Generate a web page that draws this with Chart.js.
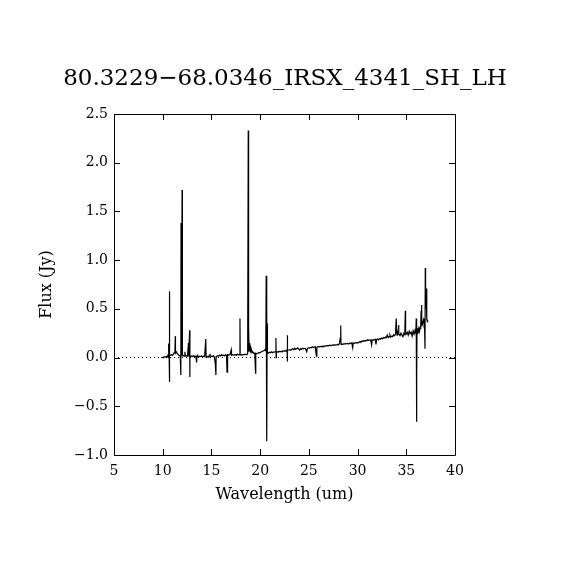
<!DOCTYPE html>
<html>
<head>
<meta charset="utf-8">
<script src="https://cdn.jsdelivr.net/npm/chart.js@4/dist/chart.umd.min.js"></script>
<style>
html,body{margin:0;padding:0;background:#fff;}
#wrap{width:570px;height:570px;}
</style>
</head>
<body>
<div id="wrap"><canvas id="c" width="570" height="570"></canvas></div>
<script>
const chartTitle = "80.3229\u221268.0346_IRSX_4341_SH_LH";
const xAxisTitle = "Wavelength (um)";
const yAxisTitle = "Flux (Jy)";
const xTickValues = [5, 10, 15, 20, 25, 30, 35, 40];
const yTickValues = [-1.0, -0.5, 0.0, 0.5, 1.0, 1.5, 2.0, 2.5];
const yTickLabels = ["\u22121.0", "\u22120.5", "0.0", "0.5", "1.0", "1.5", "2.0", "2.5"];

const wavelengthUm = [
 9.85, 9.95,10.05,10.15,10.25,10.35,10.45,10.52,10.58,10.60,10.62,10.66,10.68,10.70,10.72,10.80,10.90,11.00,11.10,11.18,
11.25,11.29,11.31,11.40,11.50,11.60,11.70,11.80,11.86,11.88,11.90,11.95,11.99,12.02,12.10,12.20,12.28,12.32,12.45,12.55,
12.64,12.67,12.76,12.78,12.80,12.90,13.00,13.10,13.20,13.30,13.40,13.48,13.52,13.60,13.70,13.80,13.90,14.00,14.10,14.20,
14.30,14.42,14.45,14.55,14.65,14.75,14.85,14.90,15.00,15.10,15.20,15.30,15.40,15.46,15.48,15.55,15.65,15.75,15.85,15.95,
16.05,16.15,16.25,16.35,16.45,16.55,16.60,16.62,16.70,16.80,16.90,17.03,17.06,17.15,17.25,17.35,17.45,17.55,17.65,17.75,
17.85,17.93,17.95,18.05,18.15,18.25,18.35,18.45,18.55,18.65,18.72,18.78,18.80,18.83,18.86,18.90,18.95,19.00,19.05,19.10,
19.15,19.20,19.28,19.35,19.45,19.53,19.55,19.65,19.75,19.85,19.95,20.05,20.15,20.25,20.35,20.45,20.52,20.58,20.62,20.66,
20.69,20.72,20.75,20.85,20.95,21.05,21.15,21.25,21.35,21.45,21.55,21.62,21.64,21.67,21.75,21.85,21.95,22.05,22.15,22.25,
22.35,22.45,22.55,22.65,22.76,22.78,22.80,22.83,22.95,23.05,23.15,23.25,23.35,23.45,23.55,23.65,23.75,23.85,23.95,24.05,
24.15,24.25,24.35,24.45,24.55,24.65,24.78,24.85,24.95,25.05,25.15,25.25,25.35,25.45,25.55,25.65,25.78,25.82,25.92,26.05,
26.15,26.25,26.35,26.45,26.55,26.65,26.75,26.85,26.95,27.05,27.15,27.25,27.35,27.45,27.55,27.65,27.75,27.85,27.95,28.05,
28.15,28.22,28.27,28.30,28.40,28.50,28.60,28.70,28.80,28.90,29.00,29.10,29.20,29.30,29.40,29.50,29.55,29.65,29.75,29.85,
29.95,30.05,30.15,30.25,30.35,30.45,30.55,30.65,30.75,30.85,30.95,31.05,31.15,31.25,31.35,31.44,31.50,31.60,31.70,31.80,
31.89,31.95,32.05,32.15,32.25,32.35,32.45,32.55,32.65,32.75,32.85,32.95,33.05,33.15,33.25,33.32,33.40,33.50,33.60,33.70,
33.80,33.90,33.96,34.02,34.05,34.10,34.15,34.20,34.25,34.35,34.45,34.55,34.65,34.75,34.85,34.90,34.93,35.00,35.10,35.20,
35.30,35.40,35.50,35.60,35.70,35.80,35.90,35.98,36.02,36.05,36.08,36.10,36.15,36.20,36.25,36.30,36.35,36.42,36.48,36.52,
36.56,36.60,36.65,36.70,36.75,36.80,36.86,36.92,36.95,36.98,37.05,37.08,37.12,37.18,37.25
];
const fluxJy = [
0.000,0.003,-0.002,0.008,0.004,0.012,0.008,0.018,0.010,0.145,0.012,0.020,0.680,-0.250,0.015,0.025,0.030,0.022,0.035,0.050,
0.062,0.220,0.045,0.058,0.040,0.028,0.020,0.018,-0.180,1.380,0.025,0.020,1.720,0.018,0.022,0.015,0.060,0.020,0.018,0.015,
0.150,0.010,0.280,-0.200,0.015,0.012,0.018,0.010,0.020,0.008,0.015,-0.050,0.012,0.020,0.005,0.015,0.010,0.018,0.005,0.015,
0.010,0.190,0.008,0.012,0.005,0.018,0.030,0.008,0.015,0.010,0.020,0.005,-0.060,-0.180,0.010,0.012,0.020,0.015,0.025,0.015,
0.030,0.020,0.025,0.018,0.030,0.020,-0.150,0.022,0.030,0.025,0.030,0.080,0.025,0.030,0.025,0.028,0.030,0.022,0.035,0.028,
0.030,0.400,0.028,0.030,0.025,0.032,0.028,0.035,0.030,0.032,0.040,2.330,0.060,0.300,0.120,0.150,0.090,0.110,0.070,0.080,
0.055,0.060,0.045,0.050,0.040,-0.160,0.045,0.040,0.045,0.050,0.048,0.055,0.060,0.065,0.070,0.075,0.085,0.070,0.840,0.000,
-0.860,0.350,0.050,0.045,0.055,0.050,0.060,0.050,0.058,0.055,0.060,0.200,0.000,0.055,0.060,0.055,0.065,0.060,0.065,0.058,
0.070,0.065,0.072,0.068,0.080,0.230,-0.040,0.075,0.078,0.082,0.075,0.085,0.090,0.080,0.095,0.085,0.090,0.100,0.088,0.075,
0.092,0.085,0.095,0.090,0.095,0.090,0.060,0.095,0.100,0.098,0.105,0.100,0.110,0.102,0.108,0.112,0.015,0.105,0.112,0.108,
0.115,0.110,0.118,0.112,0.120,0.115,0.122,0.118,0.125,0.120,0.128,0.122,0.125,0.130,0.125,0.132,0.128,0.130,0.135,0.130,
0.150,0.200,0.330,0.135,0.140,0.135,0.142,0.138,0.145,0.140,0.145,0.140,0.150,0.145,0.150,0.100,0.148,0.145,0.152,0.148,
0.155,0.150,0.158,0.165,0.160,0.170,0.165,0.175,0.168,0.178,0.172,0.185,0.175,0.182,0.180,0.130,0.182,0.178,0.185,0.188,
0.135,0.185,0.190,0.182,0.195,0.188,0.200,0.192,0.205,0.198,0.210,0.205,0.232,0.205,0.215,0.232,0.210,0.220,0.215,0.235,
0.225,0.245,0.400,0.400,0.230,0.260,0.240,0.335,0.245,0.225,0.250,0.232,0.215,0.250,0.235,0.480,0.250,0.240,0.260,0.230,
0.270,0.245,0.260,0.220,0.275,0.240,0.280,0.250,0.400,-0.660,-0.210,0.300,0.240,0.290,0.260,0.320,0.270,0.300,0.330,0.480,
0.540,0.340,0.360,0.340,0.380,0.350,0.400,0.090,0.920,0.500,0.710,0.380,0.400,0.370,0.380
];
const zeroLineX = [5, 40];
const zeroLineY = [0, 0];

const serif = "'DejaVu Serif', serif";

const spectrum = wavelengthUm.map((x, i) => ({x: x, y: fluxJy[i]}));
const zeroLine = zeroLineX.map((x, i) => ({x: x, y: zeroLineY[i]}));

const frameTicks = {
  id: 'frameTicks',
  afterDatasetsDraw(chart) {
    const {ctx, chartArea: a, scales: {x, y}} = chart;
    const L = 6;
    ctx.save();
    ctx.strokeStyle = '#000';
    ctx.lineWidth = 1;
    ctx.beginPath();
    ctx.rect(Math.round(a.left) + 0.5, Math.round(a.top) + 0.5, Math.round(a.right - a.left), Math.round(a.bottom - a.top));
    xTickValues.forEach(v => {
      const px = Math.round(x.getPixelForValue(v)) + 0.5;
      ctx.moveTo(px, a.bottom); ctx.lineTo(px, a.bottom - L);
      ctx.moveTo(px, a.top); ctx.lineTo(px, a.top + L);
    });
    yTickValues.forEach(v => {
      const py = Math.round(y.getPixelForValue(v)) + 0.5;
      ctx.moveTo(a.left, py); ctx.lineTo(a.left + L, py);
      ctx.moveTo(a.right, py); ctx.lineTo(a.right - L, py);
    });
    ctx.stroke();
    ctx.restore();
  }
};

new Chart(document.getElementById('c'), {
  type: 'line',
  data: {
    datasets: [
      {
        data: spectrum,
        borderColor: '#000',
        borderWidth: 1.2,
        pointRadius: 0,
        tension: 0,
        fill: false,
        yAxisID: 'y'
      },
      {
        data: zeroLine,
        borderColor: '#000',
        borderWidth: 1,
        borderDash: [1, 3],
        pointRadius: 0,
        fill: false,
        yAxisID: 'y'
      }
    ]
  },
  options: {
    responsive: false,
    animation: false,
    devicePixelRatio: 1,
    layout: {padding: 0},
    plugins: {
      legend: {display: false},
      tooltip: {enabled: false},
      title: {
        display: true,
        text: chartTitle,
        color: '#000',
        font: {family: serif, size: 23, weight: 'normal'},
        padding: {top: 65, bottom: 21.4}
      }
    },
    scales: {
      x: {
        type: 'linear',
        min: 5, max: 40,
        afterFit(s) { s.height = 115; },
        afterBuildTicks(s) { s.ticks = xTickValues.map(v => ({value: v})); },
        grid: {display: false, drawTicks: false},
        border: {display: false},
        ticks: {
          color: '#000',
          font: {family: serif, size: 14},
          padding: 8,
          maxRotation: 0,
          autoSkip: false,
          callback: (v) => String(v)
        },
        title: {
          display: true,
          text: xAxisTitle,
          color: '#000',
          font: {family: serif, size: 16},
          padding: {top: 0, bottom: 66}
        }
      },
      y: {
        type: 'linear',
        position: 'left',
        min: -1, max: 2.5,
        afterFit(s) { s.width = 114; },
        afterBuildTicks(s) { s.ticks = yTickValues.map(v => ({value: v})); },
        grid: {display: false, drawTicks: false},
        border: {display: false},
        ticks: {
          color: '#000',
          font: {family: serif, size: 14},
          padding: 6,
          autoSkip: false,
          callback: (v) => yTickLabels[yTickValues.findIndex(t => Math.abs(t - v) < 1e-9)]
        },
        title: {
          display: true,
          text: yAxisTitle,
          color: '#000',
          font: {family: serif, size: 16},
          padding: {top: 37.4, bottom: 0}
        }
      },
      yRight: {
        type: 'linear',
        position: 'right',
        min: -1, max: 2.5,
        afterFit(s) { s.width = 115; },
        grid: {display: false, drawTicks: false},
        border: {display: false},
        ticks: {display: false}
      }
    }
  },
  plugins: [frameTicks]
});
</script>
</body>
</html>
